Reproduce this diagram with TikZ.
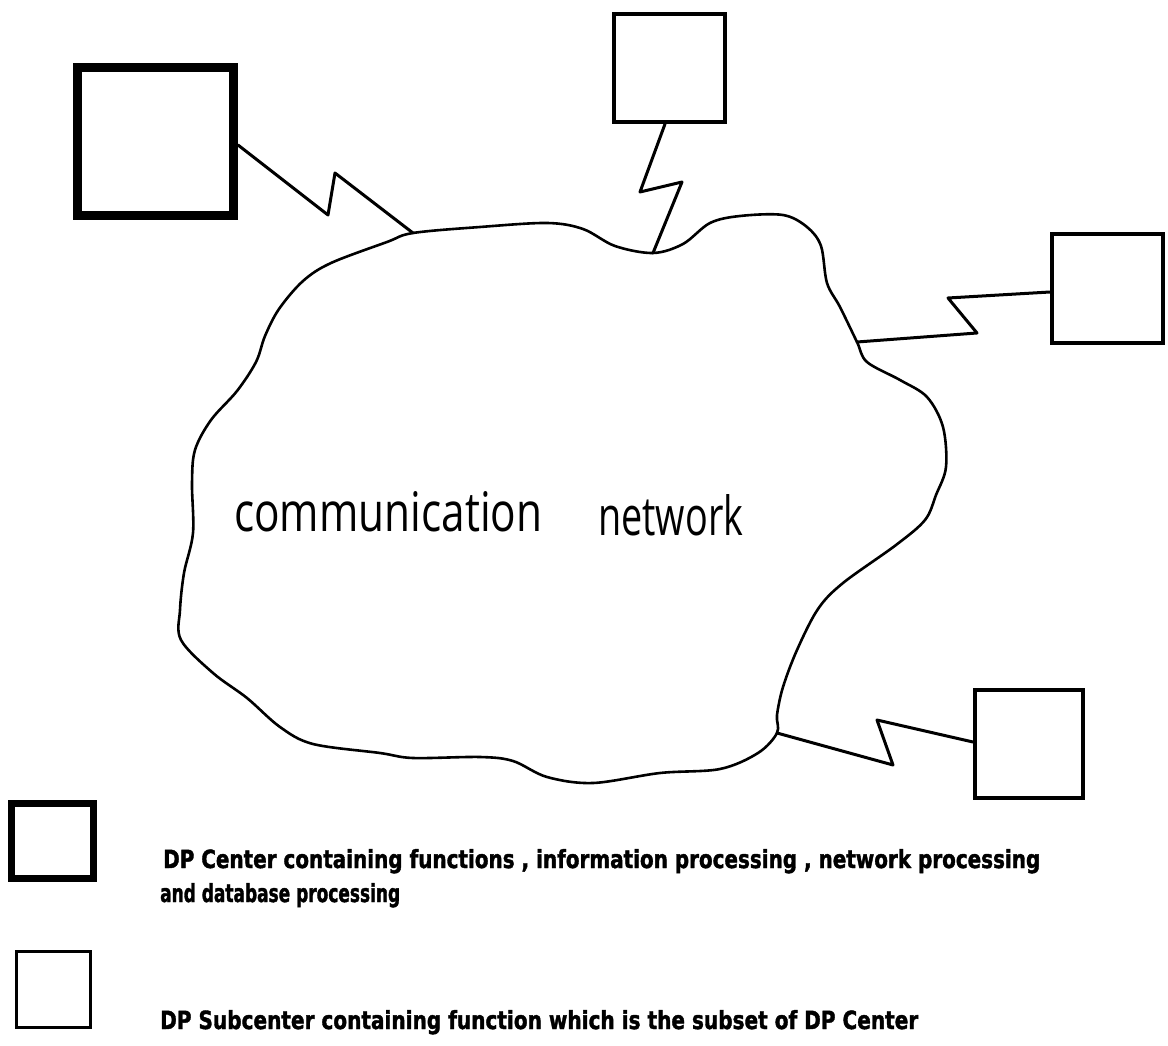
\documentclass[tikz,border=0pt]{standalone}
\usepackage{fontspec}
\usepackage{graphicx}
\newfontfamily\handfont{Open Sans}
\newfontfamily\legendfont{DejaVu Sans Condensed}[BoldFeatures={FakeBold=1.6}]
\begin{document}
\begin{tikzpicture}[x=1pt,y=-1pt,
  line join=round, line cap=round,
  site/.style={draw=black, line width=4pt, line join=miter, minimum width=110pt, minimum height=108pt, inner sep=0pt},
  centerbox/.style={draw=black, line width=9pt, line join=miter, minimum width=156pt, minimum height=148pt, inner sep=0pt},
  netline/.style={draw=black, line width=2.6pt},
  link/.style={draw=black, line width=3pt},
  legendtext/.style={anchor=base west, inner sep=0pt, font=\legendfont\bfseries}
]
\useasboundingbox[fill=white] (0,0) rectangle (1168,1046);

% DP centre and subcentres
\node[centerbox] (center) at (155.5,141.5) {};
\node[site, minimum width=111pt] (topsite) at (669.5,68) {};
\node[site, minimum width=111pt, minimum height=109pt] (rightsite) at (1107.5,288.5) {};
\node[site, minimum width=108pt] (lowsite) at (1029,744) {};

% attachment points on the network outline
\coordinate (jc) at (413,233);
\coordinate (jt) at (653,253);
\coordinate (jr) at (857,342);
\coordinate (jl) at (777,733);

% communication network outline
\draw[netline] plot[smooth cycle, tension=0.55] coordinates {
  (jc) (480,227) (547,223) (583,229) (615,246) (jt)
  (683,244) (710,223) (740,216) (783,215) (807,227) (821,246) (827,283)
  (840,307) (jr) (867,362) (900,380) (927,397) (943,427) (946,467)
  (936,495) (925,520) (896,545) (843,583) (818,609) (797,650) (783,687)
  (777,715) (jl) (758,753) (720,769) (660,773) (593,783) (547,777)
  (513,761) (480,757) (413,758) (380,753) (313,744) (280,727) (247,698)
  (213,673) (181,640) (180,610) (184,573) (193,533) (192,483) (195,450)
  (211,420) (237,391) (256,362) (265,336) (279,309) (303,281) (331,263)
  (387,242)
};

\node[anchor=base west, inner sep=0pt] (netlabel) at (234,531)
  {\resizebox{308pt}{40pt}{\handfont communication}};
\node[anchor=base west, inner sep=0pt] (netlabel2) at (598,535)
  {\resizebox{145pt}{41pt}{\handfont network}};

% zigzag links from the sites to the network
\draw[link] ([yshift=-3.5pt]center.east) -- (328,215) -- (335,173) -- (jc);
\draw[link] ([xshift=-4.5pt]topsite.south) -- (640,192) -- (682,182) -- (jt);
\draw[link] ([yshift=-3.5pt]rightsite.west) -- (948,298) -- (977,333) -- (jr);
\draw[link] ([yshift=2pt]lowsite.west) -- (877,720) -- (893,765) -- (jl);

% legend
\node[draw=black, line width=7pt, line join=miter, minimum width=82pt, minimum height=75pt, inner sep=0pt]
  (keycenter) at (52.5,841) {};
\node[draw=black, line width=3pt, line join=miter, minimum width=74pt, minimum height=76pt, inner sep=0pt]
  (keysite) at (53,989) {};

\node[legendtext] (keytext1) at (163,868)
  {\resizebox{877pt}{19pt}{DP Center containing functions , information processing , network processing}};
\node[legendtext] (keytext2) at (160,902)
  {\resizebox{240pt}{19pt}{and database processing}};
\node[legendtext] (keytext3) at (160,1029)
  {\resizebox{758pt}{19pt}{DP Subcenter containing function which is the subset of DP Center}};
\end{tikzpicture}
\end{document}
